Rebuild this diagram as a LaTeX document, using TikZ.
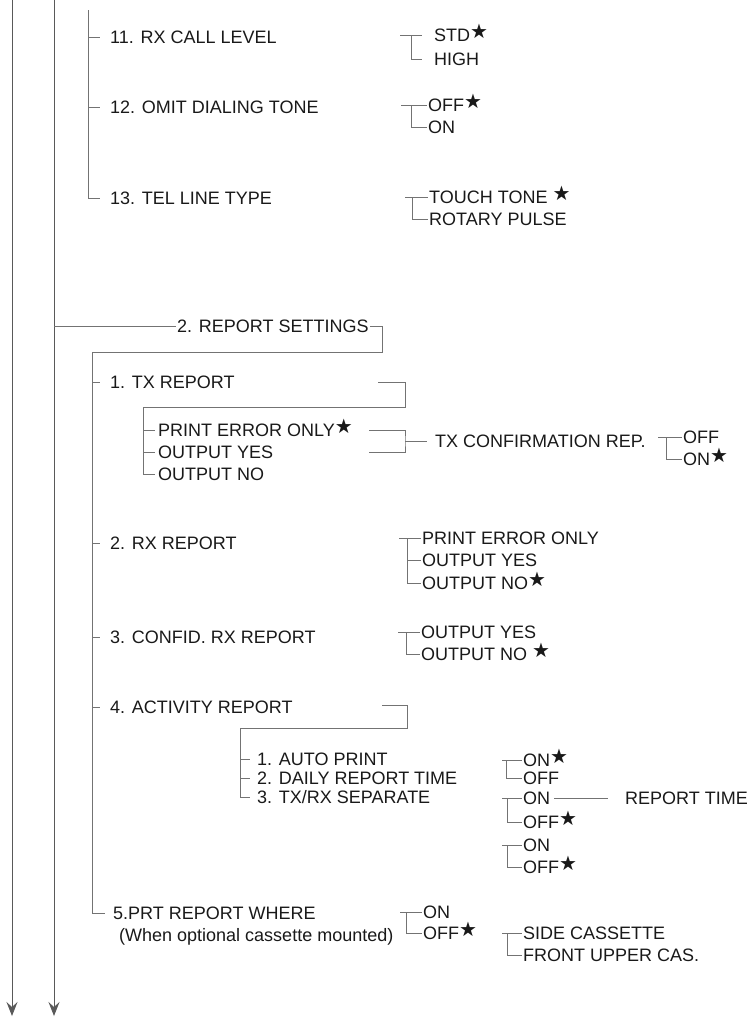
\documentclass[tikz,border=0pt]{standalone}
\usepackage{fontspec}
\setmainfont{Liberation Sans}
\newfontfamily\symfont{DejaVu Sans}
\usetikzlibrary{arrows.meta,calc}
\newcommand{\dflt}{\raisebox{3pt}{\symfont\fontsize{20}{20}\selectfont ★}}
% stem distance, left overhang, first option, last option
\newcommand{\optfork}[4]{%
  \draw[ln] ([xshift=-#1pt-#2pt]#3.west) -- (#3.west);
  \draw[ln] ([xshift=-#1pt]#3.west) |- (#4.west);
}
\tikzset{
  ln/.style={draw=black!55,line width=0.9pt},
  flow/.style={ln,draw=black!65,-{Stealth[length=14pt,width=11pt,inset=5pt]}},
  lbl/.style={anchor=west,inner sep=1pt,text height=13pt,text depth=0pt,text=black!90,font=\fontsize{18}{21}\selectfont},
  tick/.style={ln,shorten >=9pt}
}
\begin{document}
\begin{tikzpicture}[x=1pt,y=-1pt]
\useasboundingbox (0,0) rectangle (751,1018);
% the two menu lines running on to the next page
\coordinate (topA) at (12,0); \coordinate (endA) at (12,1016);
\coordinate (topB) at (54,0); \coordinate (endB) at (54,1016);
\draw[flow] (topA) -- (endA);
\draw[flow] (topB) -- (endB);
% items 11 to 13
\coordinate (stemC) at (88,10);
\node[lbl] (it11) at (109,37) {11. RX CALL LEVEL};
\node[lbl] (it12) at (109,107) {12. OMIT DIALING TONE};
\node[lbl] (it13) at (109,198) {13. TEL LINE TYPE};
\draw[tick] (stemC) |- (it13.west);
\draw[tick] (stemC |- it11.west) -- (it11.west);
\draw[tick] (stemC |- it12.west) -- (it12.west);
\node[lbl] (s11a) at (433,35) {STD\dflt};
\node[lbl] (s11b) at (433,59) {HIGH};
\draw[ln,shorten >=11pt] ([xshift=-33pt]s11a.west) -- (s11a.west);
\draw[ln,shorten >=11pt] ([xshift=-22pt]s11a.west) |- (s11b.west);
\node[lbl] (s12a) at (427,105) {OFF\dflt};
\node[lbl] (s12b) at (427,127) {ON};
\optfork{16}{10}{s12a}{s12b}
\node[lbl] (s13a) at (428,197) {TOUCH TONE \dflt};
\node[lbl] (s13b) at (428,219) {ROTARY PULSE};
\optfork{16}{7}{s13a}{s13b}
% 2. report settings
\coordinate (rsL) at (54,326);
\node[lbl] (rs) at (176,326) {2. REPORT SETTINGS};
\coordinate (boxTR) at (382,352);
\coordinate (stemD) at (92,352);
\node[lbl] (it1) at (109,382) {1. TX REPORT};
\node[lbl] (it2) at (109,543) {2. RX REPORT};
\node[lbl] (it3) at (109,637) {3. CONFID. RX REPORT};
\node[lbl] (it4) at (109,707) {4. ACTIVITY REPORT};
\node[lbl] (it5) at (112,913) {5.PRT REPORT WHERE};
\node[lbl] (it5n) at (118,935) {(When optional cassette mounted)};
\draw[ln] (rsL) -- (rs.west);
\draw[ln,shorten >=7pt] (rs.east) -| (boxTR) -- (stemD) |- (it5.west);
\draw[tick] (stemD |- it1.west) -- (it1.west);
\draw[tick] (stemD |- it2.west) -- (it2.west);
\draw[tick] (stemD |- it3.west) -- (it3.west);
\draw[tick] (stemD |- it4.west) -- (it4.west);
% tx report
\coordinate (txA) at (378,382); \coordinate (txB) at (405,407); \coordinate (txC) at (143,407);
\node[lbl] (po1) at (157,430) {PRINT ERROR ONLY\dflt};
\node[lbl] (po2) at (157,452) {OUTPUT YES};
\node[lbl] (po3) at (157,474) {OUTPUT NO};
\draw[ln,shorten >=2pt] (txA) -| (txB) -- (txC) |- (po3.west);
\draw[ln,shorten >=2pt] (txC |- po1.west) -- (po1.west);
\draw[ln,shorten >=2pt] (txC |- po2.west) -- (po2.west);
\coordinate (cfA) at (369,430); \coordinate (cfB) at (369,452); \coordinate (cfM) at (405,441);
\draw[ln] (cfA) -| (cfM) |- (cfB);
\node[lbl] (txc) at (434,441) {TX CONFIRMATION REP.};
\draw[ln,shorten >=7pt] (cfM) -- (txc.west);
\node[lbl] (tc1) at (682,437) {OFF};
\node[lbl] (tc2) at (682,459) {ON\dflt};
\optfork{16}{8}{tc1}{tc2}
% rx report, confid. rx report
\node[lbl] (rx1) at (421,538) {PRINT ERROR ONLY};
\node[lbl] (rx2) at (421,560) {OUTPUT YES};
\node[lbl] (rx3) at (421,583) {OUTPUT NO\dflt};
\optfork{14}{8}{rx1}{rx3}
\draw[ln] ([xshift=-14pt]rx2.west) -- (rx2.west);
\node[lbl] (cr1) at (420,632) {OUTPUT YES};
\node[lbl] (cr2) at (420,654) {OUTPUT NO \dflt};
\optfork{14}{8}{cr1}{cr2}
% activity report
\coordinate (acA) at (382,705); \coordinate (acB) at (407,728); \coordinate (acC) at (240,728);
\node[lbl] (ap1) at (256,759) {1. AUTO PRINT};
\node[lbl] (ap2) at (256,778) {2. DAILY REPORT TIME};
\node[lbl] (ap3) at (256,797) {3. TX/RX SEPARATE};
\draw[ln,shorten >=6pt] (acA) -| (acB) -- (acC) |- (ap3.west);
\draw[ln,shorten >=6pt] (acC |- ap1.west) -- (ap1.west);
\draw[ln,shorten >=6pt] (acC |- ap2.west) -- (ap2.west);
\node[lbl] (ao1) at (522,760) {ON\dflt};
\node[lbl] (ao2) at (522,778) {OFF};
\optfork{16}{4}{ao1}{ao2}
\node[lbl] (bo1) at (522,798) {ON};
\node[lbl] (bo2) at (522,822) {OFF\dflt};
\optfork{15}{5}{bo1}{bo2}
\node[lbl] (rt) at (624,798) {REPORT TIME};
\draw[ln,shorten <=3pt,shorten >=16pt] (bo1.east) -- (rt.west);
\node[lbl] (co1) at (522,845) {ON};
\node[lbl] (co2) at (522,867) {OFF\dflt};
\optfork{15}{5}{co1}{co2}
% prt report where
\node[lbl] (pw1) at (422,912) {ON};
\node[lbl] (pw2) at (422,933) {OFF\dflt};
\optfork{16}{6}{pw1}{pw2}
\node[lbl] (sc1) at (522,933) {SIDE CASSETTE};
\node[lbl] (sc2) at (522,955) {FRONT UPPER CAS.};
\optfork{15}{5}{sc1}{sc2}
\end{tikzpicture}
\end{document}
